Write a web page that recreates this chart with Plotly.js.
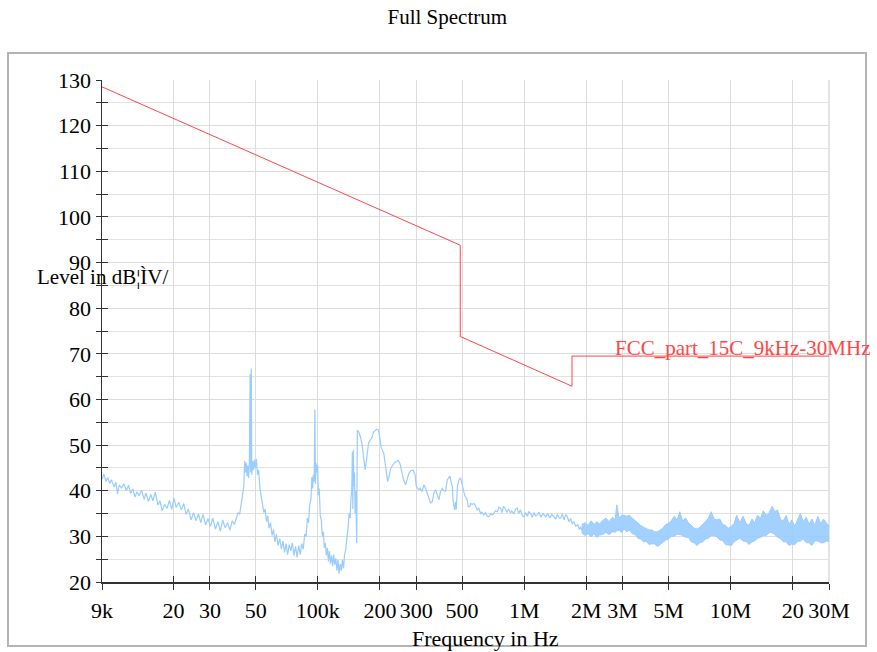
<!DOCTYPE html>
<html>
<head>
<meta charset="utf-8">
<script src="https://cdn.plot.ly/plotly-3.0.1.min.js"></script>
<style>html,body{margin:0;padding:0;background:#fff;}#chart{width:877px;height:652px;}</style>
</head>
<body>
<div id="chart"></div>
<script>
// ---- Data ----
// Measured spectrum (line part), frequency in kHz, level in dBµV
const specFreqKHz = [9.0,9.2,9.4,9.6,9.8,10.0,10.3,10.5,10.7,10.9,11.2,11.5,11.8,12.1,12.4,12.7,13.0,13.3,13.6,14.0,14.4,14.7,15.1,15.5,15.9,16.3,16.8,17.2,17.6,18.1,18.6,19.1,19.6,20.1,20.6,21.2,21.8,22.4,23.0,23.6,24.3,25.0,25.7,26.4,27.1,27.8,28.6,29.4,30.2,31.0,31.9,32.8,33.7,34.6,35.5,36.5,37.5,38.5,39.5,40.3,41.0,41.8,42.5,43.2,43.8,44.2,44.6,45.0,45.4,45.8,46.2,46.6,47.0,47.3,47.6,47.9,48.3,48.8,49.3,49.8,50.4,51.0,51.7,52.4,53.2,54.0,54.8,55.6,56.4,57.2,58.0,59.0,60.0,61.0,62.0,63.0,64.2,65.4,66.6,67.8,69.0,70.2,71.4,72.7,74.0,75.3,76.6,78.0,79.4,80.8,82.2,83.6,85.0,86.4,87.8,89.0,90.2,91.4,92.6,93.6,94.4,95.2,96.0,96.8,97.4,98.2,99.0,99.8,100.6,101.6,102.8,104.0,105.2,106.4,107.6,108.8,110.0,111.3,112.6,113.9,115.2,116.6,118.0,119.4,120.8,122.3,123.8,125.3,126.8,128.4,130.0,131.6,133.2,134.8,136.5,138.2,140.0,141.7,143.4,144.8,146.0,147.0,147.8,148.6,149.6,150.6,151.6,152.6,153.6,154.4,155.0,155.5,158.0,161.0,164.0,167.0,169.6,172.5,176.1,180.0,183.0,186.0,189.7,193.0,196.9,200.0,203.0,208.8,212.0,215.0,218.0,221.0,226.0,233.6,240.0,245.0,250.0,255.0,260.0,266.2,270.0,276.2,283.0,290.1,296.0,300.0,308.7,314.0,320.0,326.7,333.0,339.3,345.0,352.0,358.7,365.0,372.3,380.0,386.3,393.0,401.2,408.0,416.2,424.2,430.0,436.7,442.0,448.6,452.0,456.7,460.0,465.0,469.0,475.0,482.8,491.8,498.0,505.8,515.0,529.6,536.0,544.5,551.0,560.0,570.1,580.0,591.0,602.6,615.0,625.0,637.2,650.0,660.0,673.7,690.0,700.0,712.3,725.0,740.0,755.0,768.2,780.0,795.0,812.4,825.0,840.0,858.9,870.0,890.0,910.0,925.8,940.0,960.0,980.0,997.0,1015,1035,1055,1075,1095,1115,1136,1158,1180,1205,1235,1270,1300,1330,1360,1393,1420,1450,1480,1502,1530,1560,1590,1619,1650,1680,1710,1743,1780,1820,1850,1878,1910,1950];
const specLevel = [42.5,43.6,42.0,42.9,41.6,42.4,40.8,41.9,39.3,41.2,40.6,41.5,40.0,41.2,39.4,40.4,38.6,39.8,38.9,40.1,38.1,39.5,37.6,39.2,37.8,39.7,36.9,37.8,35.6,37.0,36.1,37.9,35.9,38.4,36.3,37.5,35.8,37.2,34.8,36.0,33.6,35.2,33.4,34.9,33.0,34.8,32.5,33.9,32.2,34.0,31.6,33.2,31.1,33.6,31.9,33.0,31.4,33.4,32.6,34.2,35.2,34.8,37.0,38.5,41.0,46.5,44.0,46.2,43.2,45.5,42.8,46.0,65.5,44.0,66.8,43.5,46.5,44.5,46.8,45.0,47.0,43.5,44.5,40.5,38.5,37.0,35.2,36.0,33.2,34.5,31.8,33.0,30.2,31.5,28.8,30.5,28.0,29.5,27.2,29.0,26.5,28.4,26.0,28.2,26.8,28.6,25.8,27.8,25.4,28.0,26.0,28.4,27.2,30.5,30.0,34.0,33.0,37.0,38.0,43.0,40.5,43.5,42.0,57.8,41.5,46.0,44.0,45.5,39.0,40.5,34.5,33.5,30.0,31.0,27.5,28.5,25.8,27.5,24.5,26.8,24.0,25.8,23.5,26.0,23.8,25.2,22.5,24.8,21.8,24.0,22.5,24.8,23.0,26.0,27.0,29.5,31.5,35.0,34.0,38.5,40.0,48.5,36.0,49.0,41.0,44.0,35.0,40.0,30.0,28.5,45.0,53.3,52.8,51.8,50.0,47.5,44.6,47.0,50.4,51.2,51.6,52.8,53.3,53.5,53.3,51.5,49.5,48.2,46.0,43.5,42.0,43.0,45.0,46.0,46.5,46.7,46.0,44.0,42.5,41.3,42.5,43.8,44.4,44.5,43.5,41.0,40.2,40.6,39.8,41.3,40.5,39.4,38.5,37.3,37.6,39.5,40.2,39.0,38.0,39.8,40.5,40.0,39.9,42.4,42.8,43.2,42.0,40.9,38.0,36.5,35.8,37.5,35.9,41.0,42.4,42.8,41.5,40.5,39.0,38.0,36.5,36.5,37.2,37.0,37.2,36.8,35.8,36.2,35.0,35.3,34.7,35.2,34.5,34.3,35.0,34.7,35.0,35.6,35.4,36.4,36.2,35.2,36.6,36.0,35.2,36.0,35.1,35.6,35.0,36.0,36.2,35.0,35.8,34.5,34.3,35.2,34.4,35.4,35.0,34.2,35.2,34.5,34.7,35.3,34.2,35.0,34.3,35.0,34.0,34.8,34.3,33.8,34.8,34.0,34.0,34.9,33.6,34.8,34.3,33.2,33.9,32.8,33.2,32.2,32.6,31.5,32.1,31.2,32.4];

// Measured spectrum (dense noisy band part), frequency in MHz, lower / upper envelope in dBµV
const bandFreqMHz = [1.90,1.97,2.04,2.11,2.18,2.25,2.32,2.40,2.49,2.58,2.68,2.76,2.81,2.88,2.96,3.05,3.14,3.24,3.34,3.45,3.56,3.67,3.79,3.91,4.03,4.16,4.29,4.42,4.56,4.70,4.85,5.00,5.16,5.33,5.50,5.68,5.86,6.05,6.25,6.45,6.66,6.88,7.10,7.33,7.57,7.81,8.06,8.32,8.59,8.87,9.16,9.46,9.77,10.1,10.4,10.7,11.1,11.5,11.9,12.3,12.7,13.1,13.5,14.0,14.4,14.9,15.4,15.9,16.4,16.9,17.5,18.0,18.6,19.2,19.8,20.5,21.1,21.8,22.5,23.3,24.0,24.8,25.6,26.5,27.3,28.2,29.1,30.0];
const bandLo = [30.8,30.2,30.6,29.9,30.5,29.8,30.3,30.4,30.9,30.4,31.0,30.9,31.2,31.4,30.8,31.6,31.0,31.4,30.6,30.4,29.6,29.4,28.8,28.9,28.2,28.4,28.3,27.8,28.2,28.6,29.2,29.4,30.0,30.0,30.5,30.4,30.2,29.8,29.8,28.8,28.6,28.0,28.6,28.8,29.4,29.6,30.2,30.2,29.9,29.2,29.1,28.2,28.1,28.0,28.8,29.2,29.6,29.0,28.9,28.2,28.8,29.0,29.6,29.8,30.2,30.2,30.8,30.8,30.4,29.8,29.5,28.8,28.8,28.0,28.3,28.2,28.9,29.0,29.4,28.6,28.6,28.0,29.0,29.0,28.6,28.6,29.0,28.8];
const bandHi = [32.6,33.0,32.4,33.4,32.6,33.2,32.7,33.5,34.0,33.2,34.2,33.6,36.9,34.0,34.6,34.6,34.4,34.6,34.0,33.4,33.0,32.4,32.0,31.6,31.4,31.4,31.0,31.0,31.4,31.8,32.6,32.8,33.4,34.4,33.6,35.4,33.4,34.0,33.0,32.4,31.8,31.6,32.0,32.6,33.2,34.0,35.4,33.8,33.6,33.8,32.6,32.4,31.8,32.2,32.8,34.6,33.0,34.4,32.8,32.4,33.8,33.0,34.6,34.0,35.6,34.6,35.2,36.6,35.4,35.8,33.6,33.4,34.6,32.6,33.6,32.2,33.6,35.0,33.2,34.2,32.6,33.8,32.4,34.4,32.8,33.8,33.0,32.2];

// Limit line FCC part 15C, frequency in Hz, level in dBµV
const limitFreqHz = [9000,490000,490000,1705000,1705000,30000000];
const limitLevel = [128.5,93.8,73.8,62.9,69.5,69.5];
const limitName = "FCC_part_15C_9kHz-30MHz";

// Axis ticks
const xTickVals = [9e3,2e4,3e4,5e4,1e5,2e5,3e5,5e5,1e6,2e6,3e6,5e6,1e7,2e7,3e7];
const xTickText = ["9k","20","30","50","100k","200","300","500","1M","2M","3M","5M","10M","20","30M"];

// ---- Drawing ----
const W = 877, H = 652;
const mL = 102, mR = 48, mT = 80, mB = 70;
const plotW = W - mL - mR, plotH = H - mT - mB;
const px = v => (v - mL) / plotW;        // pixel x -> paper
const py = v => 1 - (v - mT) / plotH;    // pixel y -> paper

const blue = "rgb(153,204,255)";
const red = "rgb(255,70,70)";
const font = "'Liberation Serif', 'Times New Roman', serif";

const traces = [
  {x: bandFreqMHz.map(f => f * 1e6), y: bandLo, mode: "lines", line: {color: blue, width: 1}, hoverinfo: "skip", showlegend: false},
  {x: bandFreqMHz.map(f => f * 1e6), y: bandHi, mode: "lines", line: {color: blue, width: 1}, fill: "tonexty", fillcolor: "rgba(153,204,255,0.9)", hoverinfo: "skip", showlegend: false},
  {x: specFreqKHz.map(f => f * 1e3), y: specLevel, mode: "lines", line: {color: blue, width: 1.2}, hoverinfo: "skip", showlegend: false},
  {x: limitFreqHz, y: limitLevel, mode: "lines", line: {color: red, width: 1}, name: limitName, hoverinfo: "skip", showlegend: false},
  // invisible trace to activate overlay axes (inside tick halves)
  {x: [9000], y: [20], xaxis: "x2", yaxis: "y2", mode: "markers", marker: {opacity: 0}, hoverinfo: "skip", showlegend: false}
];

const xr = [Math.log10(9000), Math.log10(3e7)];
const layout = {
  width: W, height: H,
  margin: {l: mL, r: mR, t: mT, b: mB},
  paper_bgcolor: "#fff", plot_bgcolor: "#fff",
  font: {family: font, size: 22, color: "#000"},
  title: {text: "Full Spectrum", font: {family: font, size: 21, color: "#000"}, x: 0.51, xanchor: "center", y: 0.974, yanchor: "middle"},
  xaxis: {
    type: "log", range: xr,
    tickvals: xTickVals, ticktext: xTickText,
    ticks: "outside", ticklen: 6, tickwidth: 1, tickcolor: "#333",
    showline: true, linecolor: "#333", linewidth: 1.5,
    showgrid: true, gridcolor: "#dcdcdc", gridwidth: 1,
    zeroline: false, tickfont: {family: font, size: 22, color: "#000"},
    ticklabelstandoff: 2
  },
  yaxis: {
    range: [20, 130], dtick: 10, tick0: 0,
    ticks: "outside", ticklen: 5, tickwidth: 1, tickcolor: "#333",
    minor: {dtick: 5, ticks: "outside", ticklen: 5, tickcolor: "#333", showgrid: true, gridcolor: "#e2e2e2", gridwidth: 1},
    showline: true, linecolor: "#333", linewidth: 1.5,
    showgrid: true, gridcolor: "#dcdcdc", gridwidth: 1,
    zeroline: false, tickfont: {family: font, size: 22, color: "#000"},
    ticklabelstandoff: 0
  },
  xaxis2: {
    type: "log", range: xr, overlaying: "x", anchor: "y2", side: "bottom",
    tickvals: xTickVals, ticks: "inside", ticklen: 6, tickwidth: 1, tickcolor: "#333",
    showticklabels: false, showgrid: false, showline: false, zeroline: false
  },
  yaxis2: {
    range: [20, 130], overlaying: "y", anchor: "x2", side: "left", dtick: 5, tick0: 0,
    ticks: "inside", ticklen: 6, tickwidth: 1, tickcolor: "#333",
    showticklabels: false, showgrid: false, showline: false, zeroline: false
  },
  shapes: [
    {type: "rect", xref: "paper", yref: "paper", x0: px(8), x1: px(866), y0: py(53), y1: py(646),
     line: {color: "#b4b4b4", width: 2}, fillcolor: "rgba(0,0,0,0)", layer: "below"},
    {type: "line", xref: "paper", yref: "paper", x0: 1, x1: 1, y0: 0, y1: 1, line: {color: "#c8c8c8", width: 1}, layer: "below"}
  ],
  annotations: [
    {text: "Level in dB¦ÌV/", xref: "paper", yref: "paper", x: px(35), y: py(277), xanchor: "left", yanchor: "middle",
     showarrow: false, font: {family: font, size: 21, color: "#000"}},
    {text: "Frequency in Hz", xref: "paper", yref: "paper", x: px(486), y: py(638), xanchor: "center", yanchor: "middle",
     showarrow: false, font: {family: font, size: 22, color: "#000"}},
    {text: limitName, xref: "paper", yref: "paper", x: px(613), y: py(348), xanchor: "left", yanchor: "middle",
     showarrow: false, font: {family: font, size: 21, color: red}}
  ]
};

Plotly.newPlot("chart", traces, layout, {displayModeBar: false, staticPlot: true});
</script>
</body>
</html>
